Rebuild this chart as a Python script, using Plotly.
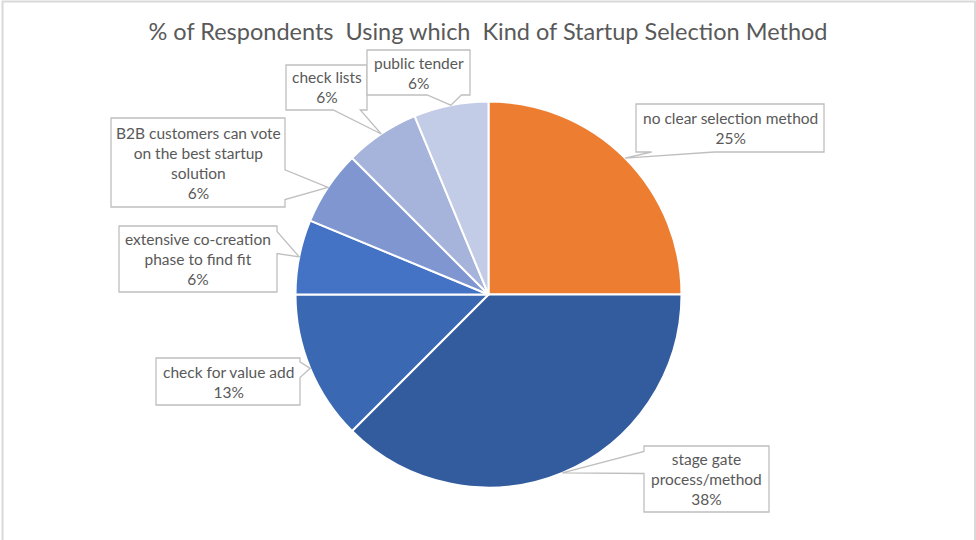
import plotly.graph_objects as go
import math

# Respondent counts per selection method (clockwise from 12 o'clock)
methods = [
    "no clear selection method",
    "stage gate process/method",
    "check for value add",
    "extensive co-creation phase to find fit",
    "B2B customers can vote on the best startup solution",
    "check lists",
    "public tender",
]
respondents = [4, 6, 2, 1, 1, 1, 1]
label_lines = [
    ["no clear selection method"],
    ["stage gate", "process/method"],
    ["check for value add"],
    ["extensive co-creation", "phase to find fit"],
    ["B2B customers can vote", "on the best startup", "solution"],
    ["check lists"],
    ["public tender"],
]
slice_colors = ["#ED7D31", "#335C9F", "#3B68B2", "#4472C4", "#7F96D0", "#A6B4DB", "#C3CCE6"]

# Canvas and pie geometry (pixels, y downward)
W, H = 976, 540
CX, CY, R = 488.5, 294.5, 193.0

# Callout boxes (pixel extents: left, right, top, bottom)
boxes = [
    (636, 824, 104, 152),
    (644, 769, 446, 512),
    (156, 300, 358, 405),
    (119, 277, 226, 292),
    (111, 285, 118, 207),
    (286, 367, 65, 110),
    (367, 470, 50, 95),
]

TEXT_COLOR = "#595959"
FONT = "Lato"


def px(x):
    return x / W


def py(y):
    return 1 - y / H


def pct(share):
    # round half up, as spreadsheet percentage labels do
    return f"{math.floor(share * 100 + 0.5)}%"


total = sum(respondents)
shares = [v / total for v in respondents]

fig = go.Figure(
    go.Pie(
        labels=methods,
        values=respondents,
        sort=False,
        direction="clockwise",
        rotation=0,
        marker=dict(colors=slice_colors, line=dict(color="white", width=2)),
        textinfo="none",
        hoverinfo="label+percent",
        domain=dict(x=[px(CX - R), px(CX + R)], y=[py(CY + R), py(CY - R)]),
        showlegend=False,
    )
)


def callout_path(box, tip):
    x0, x1, y0, y1 = box
    tx, ty = tip
    w, h = x1 - x0, y1 - y0
    cx, cy = (x0 + x1) / 2, (y0 + y1) / 2
    dx, dy = (tx - cx) / w, (ty - cy) / h
    if abs(dx) > abs(dy):
        if ty < cy:
            b0, b1 = y0 + h / 12, y0 + 5 * h / 12
        else:
            b0, b1 = y0 + 7 * h / 12, y0 + 11 * h / 12
        side = "right" if dx > 0 else "left"
    else:
        if tx < cx:
            b0, b1 = x0 + w / 12, x0 + 5 * w / 12
        else:
            b0, b1 = x0 + 7 * w / 12, x0 + 11 * w / 12
        side = "bottom" if dy > 0 else "top"
    pts = [(x0, y0)]
    if side == "top":
        pts += [(b0, y0), (tx, ty), (b1, y0)]
    pts.append((x1, y0))
    if side == "right":
        pts += [(x1, b0), (tx, ty), (x1, b1)]
    pts.append((x1, y1))
    if side == "bottom":
        pts += [(b1, y1), (tx, ty), (b0, y1)]
    pts.append((x0, y1))
    if side == "left":
        pts += [(x0, b1), (tx, ty), (x0, b0)]
    return "M " + " L ".join(f"{px(a):.5f},{py(b):.5f}" for a, b in pts) + " Z"


shapes = []
annotations = []
cum = 0.0
for share, lines, box in zip(shares, label_lines, boxes):
    mid = (cum + share / 2) * 2 * math.pi
    cum += share
    tip = (CX + R * math.sin(mid), CY - R * math.cos(mid))
    shapes.append(
        dict(
            type="path",
            xref="paper",
            yref="paper",
            path=callout_path(box, tip),
            fillcolor="white",
            line=dict(color="#BFBFBF", width=1.3),
            layer="above",
        )
    )
    text = "<br>".join(lines + [pct(share)])
    annotations.append(
        dict(
            x=px((box[0] + box[1]) / 2),
            y=py((box[2] + box[3]) / 2),
            xref="paper",
            yref="paper",
            xanchor="center",
            yanchor="middle",
            text=text,
            showarrow=False,
            align="center",
            font=dict(family=FONT, size=15.5, color=TEXT_COLOR),
        )
    )

# Chart area frame
shapes.append(
    dict(
        type="rect",
        xref="paper",
        yref="paper",
        x0=px(2.5),
        x1=px(975),
        y0=py(560),
        y1=py(1.5),
        line=dict(color="#D9D9D9", width=2),
        fillcolor="rgba(0,0,0,0)",
        layer="above",
    )
)

fig.update_layout(
    width=W,
    height=H,
    margin=dict(l=0, r=0, t=0, b=0),
    paper_bgcolor="white",
    plot_bgcolor="white",
    title=dict(
        text="% of Respondents\u00a0 Using which\u00a0 Kind of Startup Selection Method",
        x=0.5,
        xanchor="center",
        y=py(32),
        yanchor="middle",
        font=dict(family=FONT, size=23.5, color=TEXT_COLOR),
    ),
    shapes=shapes,
    annotations=annotations,
)

fig.write_html("out.html")
